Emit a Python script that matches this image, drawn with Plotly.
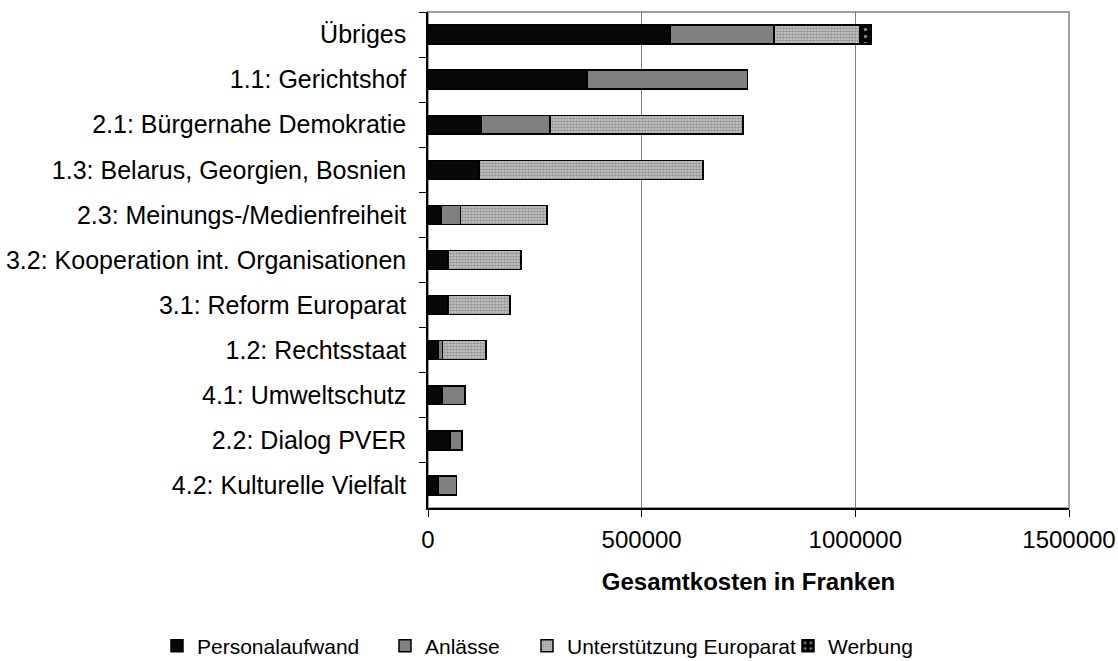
import plotly.graph_objects as go

categories = ["Übriges", "1.1: Gerichtshof", "2.1: Bürgernahe Demokratie",
              "1.3: Belarus, Georgien, Bosnien", "2.3: Meinungs-/Medienfreiheit",
              "3.2: Kooperation int. Organisationen", "3.1: Reform Europarat",
              "1.2: Rechtsstaat", "4.1: Umweltschutz", "2.2: Dialog PVER",
              "4.2: Kulturelle Vielfalt"]
personalaufwand = [568000, 372000, 125000, 119000, 30000, 47000, 47000, 23000, 33000, 51000, 24000]
anlaesse = [242000, 376000, 160000, None, 46000, None, None, 11000, 54000, 28000, 43000]
unterstuetzung = [201000, None, 452000, 524000, 203000, 171000, 145000, 102000, None, None, None]
werbung = [27000, None, None, None, None, None, None, None, None, None, None]
x_ticks = [0, 500000, 1000000, 1500000]

FONT = "Liberation Sans, Arial, sans-serif"
W, H = 1118, 661

fig = go.Figure()
line = dict(color="#000000", width=1.5)
fig.add_trace(go.Bar(y=categories, x=personalaufwand, orientation="h", name="Personalaufwand",
                     marker=dict(color="#080808", line=line), legend="legend"))
fig.add_trace(go.Bar(y=categories, x=anlaesse, orientation="h", name="Anlässe",
                     marker=dict(color="#808080", line=line), legend="legend2"))
fig.add_trace(go.Bar(y=categories, x=unterstuetzung, orientation="h", name="Unterstützung Europarat",
                     marker=dict(color="#b0b0b0", line=line,
                                 pattern=dict(shape=".", size=3, solidity=0.6,
                                              fgcolor="#585858", bgcolor="#cfcfcf")),
                     legend="legend3"))
fig.add_trace(go.Bar(y=categories, x=werbung, orientation="h", name="Werbung",
                     marker=dict(color="#000000", line=line,
                                 pattern=dict(shape=".", size=7, solidity=0.2,
                                              fgcolor="#ffffff", bgcolor="#000000")),
                     legend="legend4"))

def leg(px):
    return dict(orientation="h", xref="container", yref="container",
                x=px / W, y=1 - 646 / H, xanchor="left", yanchor="middle",
                font=dict(family=FONT, size=21, color="#000"),
                bgcolor="rgba(0,0,0,0)", itemwidth=30)

fig.update_layout(
    width=W, height=H, barmode="stack", bargap=0.58,
    margin=dict(l=428, r=1118 - 1069, t=12, b=661 - 508, autoexpand=False),
    paper_bgcolor="#ffffff", plot_bgcolor="#ffffff",
    font=dict(family=FONT, size=24, color="#000000"),
    hovermode=False, showlegend=True,
    legend=leg(157), legend2=leg(385), legend3=leg(527), legend4=leg(788),
    xaxis=dict(range=[0, 1500000], tickvals=x_ticks, tickformat="d",
               showgrid=True, gridcolor="#808080", gridwidth=1,
               showline=True, linecolor="#000000", linewidth=1.5,
               ticks="outside", ticklen=7, tickcolor="#000000",
               tickfont=dict(size=24), ticklabelstandoff=2, automargin=False,
               zeroline=False, fixedrange=True,
               title=dict(text="<b>Gesamtkosten in Franken</b>", standoff=22,
                          font=dict(size=24))),
    yaxis=dict(categoryorder="array", categoryarray=categories, autorange="reversed",
               showline=True, linecolor="#000000", linewidth=1.5,
               ticks="outside", ticklen=7, tickcolor="#000000", tickson="boundaries",
               tickfont=dict(size=25), ticklabelstandoff=15, automargin=False,
               showgrid=False, zeroline=False, fixedrange=True),
    shapes=[dict(type="rect", xref="paper", yref="paper", x0=0, x1=1, y0=0, y1=1,
                 line=dict(color="#a0a0a0", width=2), layer="below")],
)

fig.write_html("out.html", config={"displayModeBar": False},
               post_script="document.body.style.margin='0';document.body.style.overflow='hidden';")
